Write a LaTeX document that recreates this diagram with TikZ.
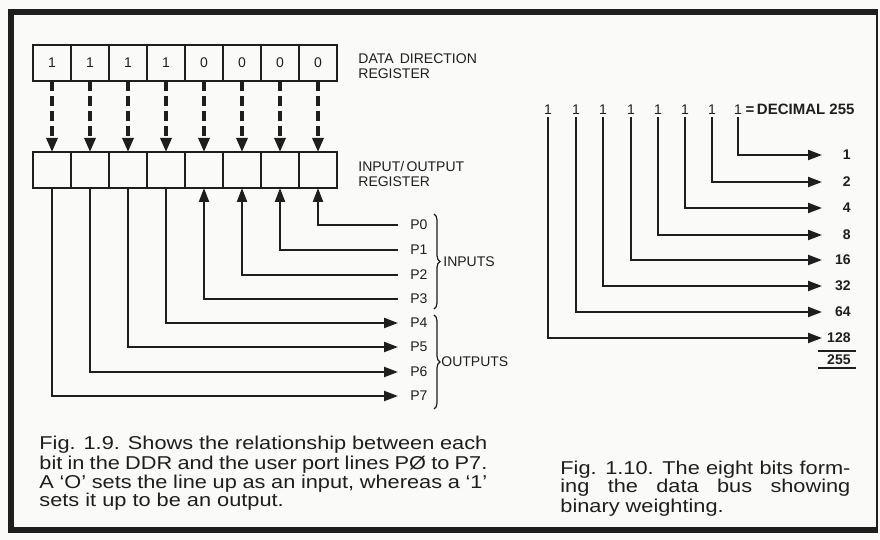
\documentclass[tikz,border=0pt]{standalone}
\usepackage{fontspec}
\setmainfont{Liberation Sans}
\newfontfamily\capfont[FakeStretch=1.17]{Liberation Sans}
\usetikzlibrary{arrows.meta,decorations.pathreplacing,calc}
\definecolor{ink}{HTML}{1E1E1E}
\definecolor{paper}{HTML}{FAFAF8}
\begin{document}
\begin{tikzpicture}[x=0.5pt,y=-0.5pt,
  cell/.style={draw=ink, line width=0.9pt, minimum width=19pt, minimum height=18pt,
    inner sep=0pt, outer sep=0pt, font=\fontsize{7}{8}\selectfont, text=ink},
  lbl/.style={font=\fontsize{7}{8}\selectfont, text=ink, inner sep=0pt, anchor=base west},
  plbl/.style={font=\fontsize{7}{8}\selectfont, text=ink, inner sep=1pt, anchor=west},
  bitlbl/.style={font=\fontsize{7}{8}\selectfont, text=ink, inner sep=1pt},
  wlbl/.style={font=\fontsize{7}{8}\selectfont\bfseries, text=ink, inner sep=0pt, anchor=east},
  dasharrow/.style={draw=ink, line width=1.6pt, dash pattern=on 5pt off 2.5pt,
    -{Triangle[length=7pt,width=5.5pt]}},
  wire/.style={draw=ink, line width=1.1pt, -{Triangle[length=7pt,width=5pt]}},
  bracey/.style={draw=ink, line width=0.6pt, decorate, decoration={brace, amplitude=3pt}},
  caption/.style={font=\capfont\fontsize{9.3}{11}\selectfont, text=ink, inner sep=0pt, anchor=base west},
  frame/.style={draw=ink, line width=3pt}
]
\fill[paper] (0,0) rectangle (880,540);
\useasboundingbox (0,0) rectangle (880,540);

% frame
\draw[frame] (11,9) -- (11,533);
\draw[frame] (9,12) -- (878,12);
\draw[frame] (9,530) -- (878,530);
\draw[draw=ink, line width=1pt] (877,12) -- (877,530);

% registers
\foreach \v [count=\i] in {1,1,1,1,0,0,0,0}
  \node[cell] (d\i) at ({14+38*\i},63) {\v};
\foreach \i in {1,...,8}
  \node[cell] (r\i) at ({14+38*\i},170) {};
\foreach \i in {1,...,8}
  \draw[dasharrow] (d\i.south) -- (r\i.north);

\node[lbl] (ddra) at (358,64) {DATA\, DIRECTION};
\node[lbl] (ddrb) at (358,79) {REGISTER};
\node[lbl] (ioa) at (358,172) {INPUT/\,OUTPUT};
\node[lbl] (iob) at (358,187) {REGISTER};

% port labels
\foreach \n/\y in {0/225,1/250,2/275,3/299,4/323,5/347,6/372,7/396}
  \node[plbl] (p\n) at (408,\y) {P\n};

% outputs
\draw[wire, shorten >=5pt] (r1.south) |- (p7.west);
\draw[wire, shorten >=5pt] (r2.south) |- (p6.west);
\draw[wire, shorten >=5pt] (r3.south) |- (p5.west);
\draw[wire, shorten >=5pt] (r4.south) |- (p4.west);
% inputs
\draw[wire, shorten <=5pt] (p3.west) -| (r5.south);
\draw[wire, shorten <=5pt] (p2.west) -| (r6.south);
\draw[wire, shorten <=5pt] (p1.west) -| (r7.south);
\draw[wire, shorten <=5pt] (p0.west) -| (r8.south);

% braces
\draw[bracey] (434,214) -- (434,309);
\draw[bracey] (434,315) -- (434,409);
\node[plbl, inner sep=0pt] (inl) at (443,262) {INPUTS};
\node[plbl, inner sep=0pt] (outl) at (441,362) {OUTPUTS};

% binary weighting
\foreach \x [count=\i] in {548,576,603,631,658,685,712,738}
  \node[bitlbl] (b\i) at (\x,110) {1};
\node[anchor=base west, inner sep=0pt, text=ink, font=\fontsize{7.5}{8}\selectfont\bfseries]
  (dec) at ([xshift=0.5pt]b8.base east) {=\,DECIMAL 255};

\foreach \v/\y [count=\i] in {1/155,2/182,4/208,8/235,16/260,32/286,64/312,128/338}{
  \coordinate (t\i) at (822,\y);
  \node[wlbl] (w\i) at (851,\y) {\v};
}
\foreach \i in {1,...,8}{
  \pgfmathtruncatemacro{\j}{9-\i}
  \draw[wire] (b\j.south) |- (t\i);
}
\draw[draw=ink, line width=0.8pt] (818,351) -- (856,351);
\node[wlbl] (wsum) at (851,360) {255};
\draw[draw=ink, line width=0.8pt] (818,368) -- (856,368);

% captions
\node[caption] (c1) at (39,450) {\makebox[224pt][s]{Fig. 1.9. Shows the relationship between each}};
\node[caption] (c2) at (39,469) {\makebox[224pt][s]{bit in the DDR and the user port lines PØ to P7.}};
\node[caption] (c3) at (39,488) {\makebox[224pt][s]{A ‘O’ sets the line up as an input, whereas a ‘1’}};
\node[caption] (c4) at (39,507) {sets it up to be an output.};

\node[caption] (e1) at (560,474) {\makebox[145pt][s]{Fig. 1.10. The eight bits form-}};
\node[caption] (e2) at (560,493) {\makebox[145pt][s]{ing the data bus showing}};
\node[caption] (e3) at (560,512) {binary weighting.};
\end{tikzpicture}
\end{document}
